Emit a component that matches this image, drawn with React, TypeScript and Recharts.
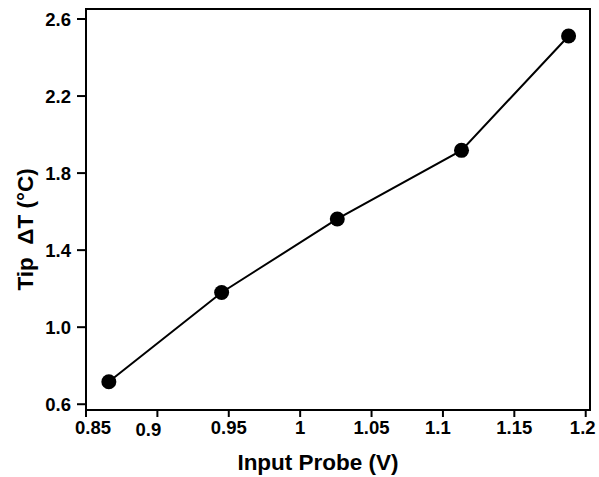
import { ComposedChart, Line, XAxis, YAxis, ReferenceArea } from 'recharts'

const probeVolts = [0.866, 0.945, 1.026, 1.113, 1.188]
const tipDeltaT = [0.717, 1.18, 1.562, 1.918, 2.512]

const xTicks = [0.85, 0.9, 0.95, 1, 1.05, 1.1, 1.15, 1.2]
const yTicks = [0.6, 1.0, 1.4, 1.8, 2.2, 2.6]

const X_DOMAIN: [number, number] = [0.85, 1.203]
const Y_DOMAIN: [number, number] = [0.57, 2.652]

const FONT = '"Liberation Sans", Arial, sans-serif'

const data = probeVolts.map((v, i) => ({ v, t: tipDeltaT[i] }))

// the original's x labels are not all centred on their ticks
const xLabelShift: Record<string, [number, number]> = {
  '0.85': [7, 0],
  '0.9': [-9, 2],
  '1.1': [-5, 0],
  '1.2': [-3, 0],
}

function XTick(props: any) {
  const { x, y, payload } = props
  const text = String(payload.value)
  const [dx, dy] = xLabelShift[text] ?? [0, 0]
  return (
    <text
      x={x + dx}
      y={y + dy}
      dy="0.71em"
      textAnchor="middle"
      fill="#000"
      fontSize={18.5}
      fontWeight={700}
      fontFamily={FONT}
    >
      {text}
    </text>
  )
}

// rotated y title, sitting a little below the plot's middle like the original
function YTitle(props: any) {
  const vb = props.viewBox
  const cx = 25
  const cy = vb.y + vb.height / 2 + 20
  return (
    <text
      x={cx}
      y={cy}
      dy="0.36em"
      transform={`rotate(-90 ${cx} ${cy})`}
      textAnchor="middle"
      fill="#000"
      fontSize={22.5}
      fontWeight={700}
      fontFamily={FONT}
      style={{ whiteSpace: 'pre' }}
    >
      {'Tip\u00A0 ΔT (°C)'}
    </text>
  )
}

export default function App() {
  return (
    <div style={{ position: 'absolute', left: 0, top: 0, background: '#fff' }}>
      <ComposedChart
        width={599}
        height={477}
        data={data}
        margin={{ top: 9, right: 9, left: 0, bottom: 0 }}
      >
        <XAxis
          dataKey="v"
          type="number"
          domain={X_DOMAIN}
          ticks={xTicks}
          allowDataOverflow
          interval={0}
          height={67}
          tickSize={7}
          tickMargin={4}
          axisLine={{ stroke: '#000', strokeWidth: 2 }}
          tickLine={{ stroke: '#000', strokeWidth: 2 }}
          tick={<XTick />}
          label={{
            value: 'Input Probe (V)',
            position: 'insideBottom',
            offset: 7,
            dx: -20,
            fill: '#000',
            fontSize: 22.5,
            fontWeight: 700,
            fontFamily: FONT,
          }}
        />
        <YAxis
          dataKey="t"
          type="number"
          domain={Y_DOMAIN}
          ticks={yTicks}
          allowDataOverflow
          interval={0}
          width={86}
          tickSize={9}
          tickMargin={6}
          tickFormatter={(v: number) => v.toFixed(1)}
          axisLine={{ stroke: '#000', strokeWidth: 2 }}
          tickLine={{ stroke: '#000', strokeWidth: 2 }}
          tick={{ fill: '#000', fontSize: 18.5, fontWeight: 700, fontFamily: FONT }}
          label={YTitle}
        />
        <ReferenceArea
          x1={X_DOMAIN[0]}
          x2={X_DOMAIN[1]}
          y1={Y_DOMAIN[0]}
          y2={Y_DOMAIN[1]}
          fill="none"
          stroke="#000"
          strokeWidth={2}
          ifOverflow="visible"
        />
        <Line
          dataKey="t"
          type="linear"
          stroke="#000"
          strokeWidth={2}
          dot={{ r: 7.5, fill: '#000', stroke: '#000', strokeWidth: 0 }}
          activeDot={false}
          isAnimationActive={false}
        />
      </ComposedChart>
    </div>
  )
}
